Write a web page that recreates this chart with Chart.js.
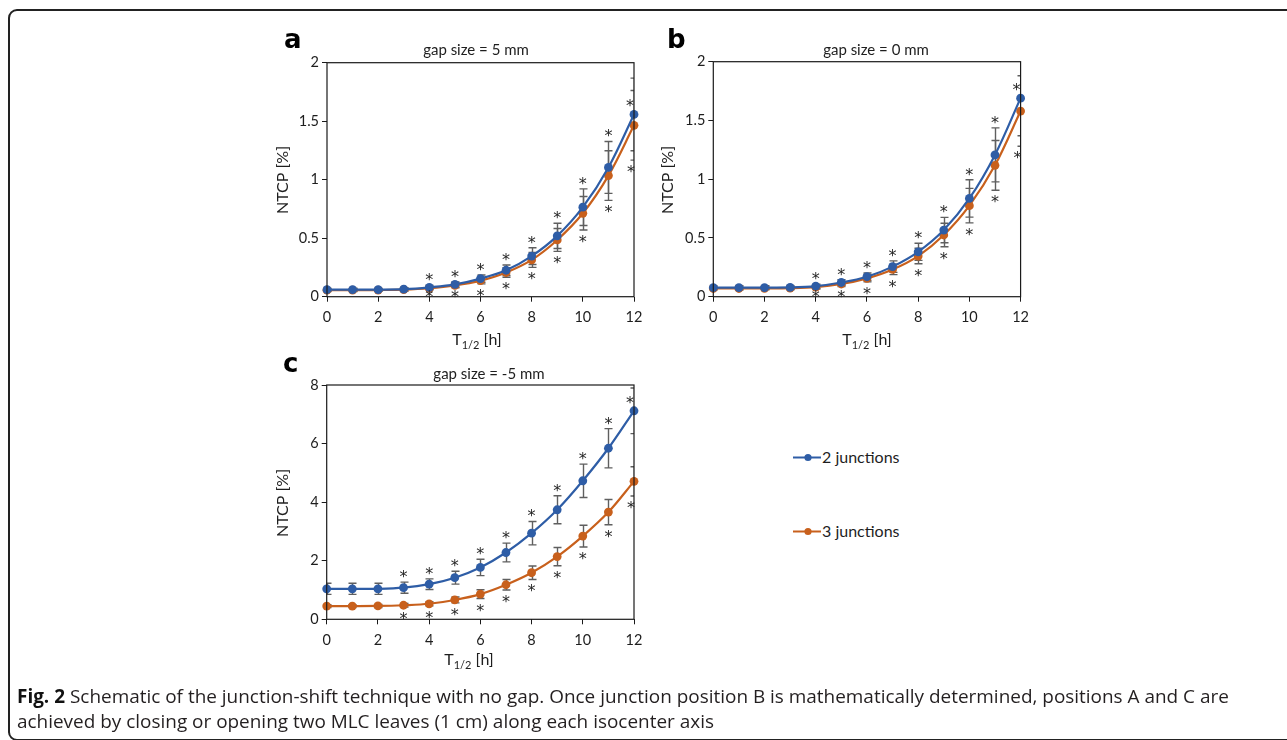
<!DOCTYPE html>
<html><head><meta charset="utf-8">
<script src="https://cdn.jsdelivr.net/npm/chart.js@4/dist/chart.umd.min.js"></script>
<style>
html,body{margin:0;padding:0;background:#fff;width:1287px;height:740px;overflow:hidden;font-family:Lato,sans-serif;}
#frame{position:absolute;left:8px;top:9px;width:1330px;height:732px;border:2px solid #222;border-radius:9px;box-sizing:border-box;}
.cw{position:absolute;width:388px;height:340px;}
.cw canvas{display:block;}
.li{position:absolute;height:20px;line-height:20px;font-size:16px;color:#1e1e1e;white-space:nowrap;}
.li svg{position:absolute;left:0;top:0;}
.li span{position:absolute;left:29px;top:0;}
#caption{position:absolute;left:17px;top:684px;font-family:"Open Sans",sans-serif;font-size:16px;line-height:25px;color:#231f20;white-space:nowrap;}
#caption b{color:#111;}
</style></head>
<body>
<div id="frame"></div>
<div class="cw" id="wa" style="left:262px;top:20px;"><canvas id="ca"></canvas></div>
<div class="cw" id="wb" style="left:648px;top:20px;"><canvas id="cb"></canvas></div>
<div class="cw" id="wc" style="left:262px;top:345px;"><canvas id="cc"></canvas></div>
<div class="li" style="left:793px;top:447px;"><svg width="28" height="20"><line x1="0" y1="10.5" x2="28" y2="10.5" stroke="#2E5DA6" stroke-width="2"/><circle cx="15" cy="10.5" r="3.6" fill="#2E5DA6"/></svg><span id="lg1">2 junctions</span></div>
<div class="li" style="left:793px;top:520.5px;"><svg width="28" height="20"><line x1="0" y1="10.5" x2="28" y2="10.5" stroke="#C8601C" stroke-width="2"/><circle cx="15" cy="10.5" r="3.6" fill="#C8601C"/></svg><span id="lg2">3 junctions</span></div>
<div id="caption"><div id="cap1"><b>Fig. 2</b> Schematic of the junction-shift technique with no gap. Once junction position B is mathematically determined, positions A and C are</div><div id="cap2">achieved by closing or opening two MLC leaves (1 cm) along each isocenter axis</div></div>
<script>
// ---------- data ----------
const halfLives = [0,1,2,3,4,5,6,7,8,9,10,11,12];
const seriesNames = ['2 junctions','3 junctions'];

// panel a: gap size = 5 mm
const twoJ_A   = [0.060,0.060,0.060,0.064,0.080,0.105,0.155,0.226,0.347,0.520,0.765,1.105,1.558];
const threeJ_A = [0.056,0.056,0.057,0.060,0.072,0.096,0.137,0.207,0.315,0.485,0.713,1.035,1.465];
const twoJErr_A   = [0.012,0.012,0.012,0.013,0.016,0.021,0.031,0.045,0.072,0.108,0.157,0.222,0.310];
const threeJErr_A = [0.011,0.011,0.011,0.012,0.014,0.019,0.027,0.041,0.064,0.098,0.143,0.212,0.298];
const sig_A = [4,5,6,7,8,9,10,11,12];

// panel b: gap size = 0 mm
const twoJ_B   = [0.078,0.078,0.078,0.079,0.090,0.121,0.170,0.256,0.382,0.567,0.836,1.207,1.690];
const threeJ_B = [0.070,0.070,0.071,0.073,0.082,0.108,0.156,0.232,0.346,0.525,0.775,1.118,1.580];
const twoJErr_B   = [0.015,0.015,0.015,0.015,0.017,0.023,0.032,0.049,0.073,0.108,0.159,0.230,0.320];
const threeJErr_B = [0.013,0.013,0.013,0.014,0.016,0.021,0.030,0.044,0.066,0.100,0.147,0.212,0.300];
const sig_B = [4,5,6,7,8,9,10,11,12];

// panel c: gap size = -5 mm
const twoJ_C   = [1.04,1.04,1.04,1.08,1.20,1.42,1.77,2.28,2.94,3.74,4.73,5.84,7.12];
const threeJ_C = [0.45,0.45,0.455,0.48,0.53,0.66,0.86,1.18,1.59,2.14,2.84,3.66,4.71];
const twoJErr_C   = [0.19,0.19,0.19,0.19,0.18,0.22,0.28,0.32,0.40,0.48,0.57,0.67,0.78];
const threeJErr_C = [0.05,0.05,0.05,0.06,0.07,0.10,0.15,0.18,0.23,0.31,0.37,0.43,0.50];
const sig_C = [3,4,5,6,7,8,9,10,11,12];

const xTickStep = 2;
const yTicksAB = {min:0, max:2, step:0.5};
const yTicksC  = {min:0, max:8, step:2};

// ---------- style ----------
const BLUE = '#2E5DA6', ORANGE = '#C8601C';
const TXT = '#1e1e1e';
Chart.defaults.font.family = 'Lato, sans-serif';
Chart.defaults.font.size = 14;
Chart.defaults.color = TXT;

const deco = {
  id: 'deco',
  beforeDatasetsDraw(chart, args, o) {
    const {ctx, chartArea: ca, scales: {x, y}} = chart;
    ctx.save();
    ctx.beginPath(); ctx.rect(ca.left, ca.top, ca.right - ca.left, ca.bottom - ca.top); ctx.clip();
    ctx.strokeStyle = '#5f5f5f'; ctx.lineWidth = 1.4;
    chart.data.datasets.forEach(ds => {
      ds.data.forEach((p, i) => {
        const e = ds.errors[i];
        const px = Math.round(x.getPixelForValue(p.x)) + 0.5;
        const yt = y.getPixelForValue(p.y + e), yb = y.getPixelForValue(p.y - e);
        ctx.beginPath();
        ctx.moveTo(px, yt); ctx.lineTo(px, yb);
        ctx.moveTo(px - 4, yt); ctx.lineTo(px + 4, yt);
        ctx.moveTo(px - 4, yb); ctx.lineTo(px + 4, yb);
        ctx.stroke();
      });
    });
    ctx.restore();
  },
  afterDraw(chart, args, o) {
    const {ctx, chartArea: ca, scales: {x, y}} = chart;
    const ox = o.ox, oy = o.oy;
    ctx.save();
    // plot box
    ctx.strokeStyle = '#1a1a1a'; ctx.lineWidth = 1.2;
    ctx.strokeRect(ca.left, ca.top, ca.right - ca.left, ca.bottom - ca.top);
    // asterisks
    ctx.fillStyle = '#262626';
    ctx.font = '16px "DejaVu Sans"';
    ctx.textAlign = 'center';
    const m = ctx.measureText('*');
    const cOff = (m.actualBoundingBoxAscent - m.actualBoundingBoxDescent) / 2;
    const last = halfLives.length - 1;
    const up = chart.data.datasets[0], lo = chart.data.datasets[1];
    o.sig.forEach(i => {
      const pu = up.data[i], pl = lo.data[i];
      let xu = x.getPixelForValue(pu.x), yu;
      if (i === last) { xu -= 4; yu = y.getPixelForValue(pu.y) - 11; }
      else yu = y.getPixelForValue(pu.y + up.errors[i]) - 8;
      yu = Math.max(yu, ca.top + 4);
      ctx.fillText('*', xu, yu + cOff);
      let xl = x.getPixelForValue(pl.x);
      if (i === last) xl -= 3;
      let yl = y.getPixelForValue(pl.y - lo.errors[i]) + 9;
      yl = Math.min(yl, ca.bottom - 3);
      ctx.fillText('*', xl, yl + cOff);
    });
    // panel letter
    ctx.fillStyle = '#000';
    ctx.textAlign = 'left'; ctx.textBaseline = 'alphabetic';
    ctx.font = 'bold 26px "DejaVu Sans"';
    ctx.fillText(o.letter, o.letterX - ox, o.letterY - oy);
    // title
    ctx.fillStyle = TXT;
    ctx.font = '15px Lato';
    ctx.textAlign = 'center'; ctx.textBaseline = 'middle';
    ctx.fillText(o.title, o.titleX - ox, o.titleY - oy);
    // y axis title
    ctx.save();
    ctx.translate(o.yTitleX - ox, o.yTitleY - oy);
    ctx.rotate(-Math.PI / 2);
    ctx.font = '16px Lato';
    ctx.fillText('NTCP [%]', 0, 0);
    ctx.restore();
    // x axis title with subscript
    ctx.textBaseline = 'alphabetic'; ctx.textAlign = 'left';
    const big = '16px Lato', small = '11px Lato';
    ctx.font = big; const wT = ctx.measureText('T').width; const wH = ctx.measureText(' [h]').width;
    ctx.font = small; const wS = ctx.measureText('1/2').width;
    let sx = o.xTitleX - ox - (wT + wS + wH) / 2;
    const by = o.xTitleY - oy;
    ctx.font = big; ctx.fillText('T', sx, by); sx += wT;
    ctx.font = small; ctx.fillText('1/2', sx, by + 4); sx += wS;
    ctx.font = big; ctx.fillText(' [h]', sx, by);
    ctx.restore();
  }
};

function makeChart(id, twoJ, threeJ, e2, e3, yt, geom, deco_o) {
  const ds = (vals, errs, col, name) => ({
    label: name,
    data: halfLives.map((h, i) => ({x: h, y: vals[i]})),
    errors: errs,
    borderColor: col, backgroundColor: col,
    borderWidth: 2.2, pointRadius: 4.4, pointHoverRadius: 4.4, pointBorderWidth: 0,
    tension: 0.35, clip: false
  });
  return new Chart(document.getElementById(id), {
    type: 'line',
    data: {datasets: [ds(twoJ, e2, BLUE, seriesNames[0]), ds(threeJ, e3, ORANGE, seriesNames[1])]},
    options: {
      responsive: false, animation: false, maintainAspectRatio: false,
      layout: {padding: {left: 0, top: geom.top, right: geom.right, bottom: 0}},
      plugins: {legend: {display: false}, tooltip: {enabled: false}, deco: deco_o},
      scales: {
        x: {type: 'linear', min: 0, max: 12,
            ticks: {stepSize: xTickStep, padding: 7, color: TXT, maxRotation: 0, font: {size: 14.5}},
            grid: {display: true, drawOnChartArea: false, drawTicks: true, tickLength: 5, color: '#1a1a1a', lineWidth: 1},
            border: {display: false},
            afterFit(s) { s.height = geom.xh; }},
        y: {min: yt.min, max: yt.max,
            ticks: {stepSize: yt.step, padding: 3, color: TXT, font: {size: 14.5}, callback: v => v},
            grid: {display: true, drawOnChartArea: false, drawTicks: true, tickLength: 5, color: '#1a1a1a', lineWidth: 1},
            border: {display: false},
            afterFit(s) { s.width = geom.yw; }}
      }
    },
    plugins: [deco]
  });
}

['ca','cb','cc'].forEach(id => { const c = document.getElementById(id); c.width = 388; c.height = 340; c.style.width='388px'; c.style.height='340px'; });

makeChart('ca', twoJ_A, threeJ_A, twoJErr_A, threeJErr_A, yTicksAB,
  {top: 42.7, right: 16, xh: 63.3, yw: 65},
  {ox: 262, oy: 20, sig: sig_A, letter: 'a', letterX: 284, letterY: 48, title: 'gap size = 5 mm', titleX: 476, titleY: 50,
   yTitleX: 283, yTitleY: 180, xTitleX: 477, xTitleY: 345});
makeChart('cb', twoJ_B, threeJ_B, twoJErr_B, threeJErr_B, yTicksAB,
  {top: 41.7, right: 14, xh: 63.3, yw: 65.3},
  {ox: 648, oy: 20, sig: sig_B, letter: 'b', letterX: 667, letterY: 48, title: 'gap size = 0 mm', titleX: 876, titleY: 50,
   yTitleX: 668, yTitleY: 180, xTitleX: 867, xTitleY: 345});
makeChart('cc', twoJ_C, threeJ_C, twoJErr_C, threeJErr_C, yTicksC,
  {top: 40, right: 16, xh: 65.7, yw: 64.7},
  {ox: 262, oy: 345, sig: sig_C, letter: 'c', letterX: 283, letterY: 372, title: 'gap size = -5 mm', titleX: 489, titleY: 374,
   yTitleX: 283, yTitleY: 503, xTitleX: 469, xTitleY: 665});

// fit caption line 1 width by font size
(function(){
  const cap = document.getElementById('caption');
  const l1 = document.getElementById('cap1');
  l1.style.display = 'inline-block';
  const w = l1.getBoundingClientRect().width;
  const target = 1213;
  cap.style.fontSize = (16 * target / w).toFixed(2) + 'px';
  l1.style.display = 'block';
})();
</script>
</body></html>
